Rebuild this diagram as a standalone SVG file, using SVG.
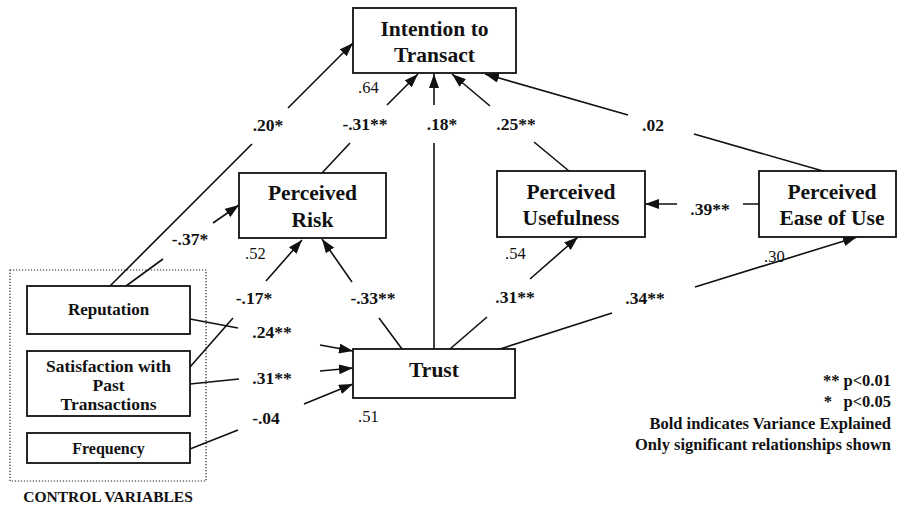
<svg xmlns="http://www.w3.org/2000/svg" width="897" height="506" viewBox="0 0 897 506">
<style>
.box{fill:#fff;stroke:#111;stroke-width:1.8}
.ln{fill:none;stroke:#111;stroke-width:1.6;marker-end:url(#arr)}
.nl{font-family:"Liberation Serif","Times New Roman",serif;font-weight:bold;font-size:21.5px;fill:#111;text-anchor:middle}
.cl{font-family:"Liberation Serif","Times New Roman",serif;font-weight:bold;font-size:17.5px;fill:#111;text-anchor:middle}
.co{font-family:"Liberation Serif","Times New Roman",serif;font-weight:bold;font-size:17.5px;fill:#111;text-anchor:middle}
.r2{font-family:"Liberation Serif","Times New Roman",serif;font-size:16.5px;fill:#111}
.lg{font-family:"Liberation Serif","Times New Roman",serif;font-weight:bold;font-size:16.5px;fill:#111;text-anchor:end}
</style>
<defs>
<marker id="arr" markerUnits="userSpaceOnUse" markerWidth="14" markerHeight="10" viewBox="0 0 14 10" refX="14" refY="5" orient="auto">
<path d="M0,0 L14,5 L0,10 z" fill="#111"/>
</marker>
</defs>
<rect width="897" height="506" fill="#fff"/>

<g id="connectors">
<path class="ln" d="M110,286 L252,144 M288,108 L353,43"/>
<path class="ln" d="M322,173 L350,143 M387,105 L418,74"/>
<path class="ln" d="M434,349 L434,143 M434,105 L434,74"/>
<path class="ln" d="M569,171 L534,142 M490,106 L452,74"/>
<path class="ln" d="M823,171 L694,134 M628,115 L485,74"/>
<path class="ln" d="M759,204 L743,204 M677,204 L645,204"/>
<path class="ln" d="M126,286 L163,259 M213,223 L239,205"/>
<path class="ln" d="M190,367 L233,318 M266,281 L302,240"/>
<path class="ln" d="M402,349 L379,318 M352,282 L322,239"/>
<path class="ln" d="M450,349 L487,317 M530,279 L578,237"/>
<path class="ln" d="M500,349 L612,313 M695,287 L857,237"/>
<path class="ln" d="M190,319 L238,328 M320,345 L353,351"/>
<path class="ln" d="M190,384 L239,379 M320,371 L353,368"/>
<path class="ln" d="M190,449 L238,430 M304,404 L353,384"/>
</g>

<g id="coefficients">
<text class="co" x="268" y="131">.20*</text>
<text class="co" x="365" y="130">-.31**</text>
<text class="co" x="442" y="130">.18*</text>
<text class="co" x="516" y="130">.25**</text>
<text class="co" x="653" y="131">.02</text>
<text class="co" x="710" y="215">.39**</text>
<text class="co" x="190" y="245">-.37*</text>
<text class="co" x="254" y="304">-.17*</text>
<text class="co" x="373" y="304">-.33**</text>
<text class="co" x="515" y="303">.31**</text>
<text class="co" x="645" y="304">.34**</text>
<text class="co" x="272" y="338">.24**</text>
<text class="co" x="272" y="384">.31**</text>
<text class="co" x="266" y="424">-.04</text>
</g>

<g id="control-group">
<rect x="10" y="270" width="196" height="211" fill="none" stroke="#222" stroke-width="1.2" stroke-dasharray="1.2,1.8"/>
<text class="cl" x="108" y="502" style="font-size:15.5px">CONTROL VARIABLES</text>
</g>

<g id="intention">
<rect class="box" x="353" y="8" width="163" height="65"/>
<text class="nl" x="434.5" y="36">Intention to</text>
<text class="nl" x="434.5" y="62">Transact</text>
<text class="r2" x="358" y="93">.64</text>
</g>

<g id="risk">
<rect class="box" x="239" y="173" width="147" height="65"/>
<text class="nl" x="312.5" y="200">Perceived</text>
<text class="nl" x="312.5" y="227">Risk</text>
<text class="r2" x="245" y="259">.52</text>
</g>

<g id="usefulness">
<rect class="box" x="497" y="171" width="148" height="66"/>
<text class="nl" x="571" y="199">Perceived</text>
<text class="nl" x="571" y="225">Usefulness</text>
<text class="r2" x="505" y="259">.54</text>
</g>

<g id="ease">
<rect class="box" x="759" y="171" width="137" height="66"/>
<text class="nl" x="832" y="199">Perceived</text>
<text class="nl" x="832" y="225">Ease of Use</text>
<text class="r2" x="764" y="262">.30</text>
</g>

<g id="trust">
<rect class="box" x="353" y="349" width="162" height="49"/>
<text class="nl" x="434" y="377">Trust</text>
<text class="r2" x="358" y="422">.51</text>
</g>

<g id="reputation">
<rect class="box" x="27" y="286" width="163" height="48"/>
<text class="cl" x="108.5" y="315" style="font-size:17px">Reputation</text>
</g>

<g id="satisfaction">
<rect class="box" x="27" y="351" width="163" height="65"/>
<text class="cl" x="108.5" y="372">Satisfaction with</text>
<text class="cl" x="108.5" y="391">Past</text>
<text class="cl" x="108.5" y="410">Transactions</text>
</g>

<g id="frequency">
<rect class="box" x="27" y="433" width="163" height="30"/>
<text class="cl" x="108.5" y="454" style="font-size:16px">Frequency</text>
</g>

<g id="legend">
<text class="lg" x="891" y="386">** p&lt;0.01</text>
<text class="lg" x="832" y="407">*</text>
<text class="lg" x="891" y="407">p&lt;0.05</text>
<text class="lg" x="891" y="429">Bold indicates Variance Explained</text>
<text class="lg" x="891" y="450">Only significant relationships shown</text>
</g>
</svg>
